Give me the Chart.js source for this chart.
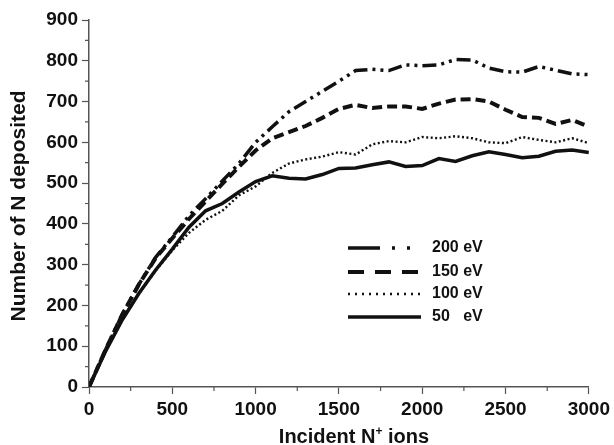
<!DOCTYPE html>
<html>
<head>
<meta charset="utf-8">
<script src="https://cdn.jsdelivr.net/npm/chart.js@4.4.0/dist/chart.umd.min.js"></script>
<style>
  body { margin: 0; background: #fff; }
  #wrap { width: 614px; height: 445px; }
</style>
</head>
<body>
<div id="wrap"><canvas id="grafic" width="614" height="445"></canvas></div>
<script>
// incident ions (x) and deposited N for each energy
const ions = [0, 100, 200, 300, 400, 500, 600, 700, 800, 900, 1000,
    1100, 1200, 1300, 1400, 1500, 1600, 1700, 1800, 1900, 2000,
    2100, 2200, 2300, 2400, 2500, 2600, 2700, 2800, 2900, 3000];

const ev200 = [0, 92, 178, 252, 318, 368, 420, 462, 505, 548, 600,
    638, 675, 700, 725, 750, 776, 779, 776, 790, 788,
    790, 803, 802, 782, 773, 772, 786, 777, 768, 766];

const ev150 = [0, 92, 178, 252, 316, 365, 412, 455, 498, 540, 580,
    610, 625, 640, 660, 682, 692, 684, 688, 688, 682,
    695, 705, 706, 700, 680, 662, 660, 645, 655, 638];

const ev100 = [0, 88, 165, 230, 285, 335, 378, 410, 432, 470, 492,
    525, 548, 558, 565, 576, 570, 595, 603, 600, 613,
    610, 615, 610, 600, 598, 613, 606, 600, 610, 598];

const ev50 = [0, 88, 165, 230, 287, 338, 392, 432, 450, 478, 504,
    518, 512, 510, 521, 536, 537, 545, 552, 541, 543,
    560, 553, 567, 577, 570, 562, 566, 578, 581, 575];

const legendLabels = ['200 eV', '150 eV', '100 eV', '50   eV'];

const ink = '#111';
const axisColor = '#555';
const boldFont = "'Liberation Sans', Arial, sans-serif";

const toPoints = arr => arr.map((v, i) => ({ x: ions[i], y: v }));

const series = [
    { data: ev200, dash: [14, 5, 3, 5, 3, 5], width: 3.5, legendDash: [32, 12, 3, 12, 3, 40] },
    { data: ev150, dash: [10, 5], width: 4, legendDash: [16, 11] },
    { data: ev100, dash: [2, 2.5], width: 2.4, legendDash: [2, 5] },
    { data: ev50, dash: [], width: 3.5, legendDash: [] }
];

// minor ticks, legend and axis titles
const extras = {
    id: 'extras',
    afterDraw(chart) {
        const ctx = chart.ctx;
        const xs = chart.scales.x;
        const ys = chart.scales.y;
        const area = chart.chartArea;

        ctx.save();
        ctx.strokeStyle = axisColor;
        ctx.lineWidth = 1.2;
        ctx.beginPath();
        for (let v = 250; v < 3000; v += 500) {
            const px = xs.getPixelForValue(v);
            ctx.moveTo(px, area.bottom);
            ctx.lineTo(px, area.bottom + 4);
        }
        for (let v = 50; v < 900; v += 100) {
            const py = ys.getPixelForValue(v);
            ctx.moveTo(area.left, py);
            ctx.lineTo(area.left - 4, py);
        }
        ctx.stroke();

        // legend
        const rows = [248, 272, 294, 317];
        ctx.strokeStyle = ink;
        ctx.fillStyle = ink;
        ctx.font = 'bold 16px ' + boldFont;
        ctx.textBaseline = 'middle';
        series.forEach((s, i) => {
            ctx.beginPath();
            ctx.setLineDash(s.legendDash);
            ctx.lineWidth = s.width;
            ctx.moveTo(348, rows[i]);
            ctx.lineTo(421, rows[i]);
            ctx.stroke();
            ctx.setLineDash([]);
            ctx.fillText(legendLabels[i], 432, rows[i]);
        });

        // axis titles
        ctx.textBaseline = 'alphabetic';
        const a = 'Incident N', b = ' ions';
        ctx.font = 'bold 20px ' + boldFont;
        const wa = ctx.measureText(a).width;
        const wb = ctx.measureText(b).width;
        ctx.font = 'bold 12px ' + boldFont;
        const wp = ctx.measureText('+').width;
        let x0 = 354 - (wa + wp + wb) / 2;
        ctx.font = 'bold 20px ' + boldFont;
        ctx.fillText(a, x0, 443);
        ctx.font = 'bold 12px ' + boldFont;
        ctx.fillText('+', x0 + wa, 435);
        ctx.font = 'bold 20px ' + boldFont;
        ctx.fillText(b, x0 + wa + wp, 443);

        ctx.translate(19, 206);
        ctx.rotate(-Math.PI / 2);
        ctx.font = 'bold 21px ' + boldFont;
        ctx.textAlign = 'center';
        ctx.textBaseline = 'middle';
        ctx.fillText('Number of N deposited', 0, 0);
        ctx.restore();
    }
};

new Chart(document.getElementById('grafic'), {
    type: 'line',
    data: {
        datasets: series.map(s => ({
            data: toPoints(s.data),
            borderColor: ink,
            borderWidth: s.width,
            borderDash: s.dash,
            pointRadius: 0,
            tension: 0,
            fill: false
        }))
    },
    options: {
        responsive: false,
        animation: false,
        devicePixelRatio: 1,
        layout: { padding: { top: 20, right: 22, left: 0, bottom: 0 } },
        plugins: {
            legend: { display: false },
            tooltip: { enabled: false }
        },
        scales: {
            x: {
                type: 'linear',
                min: 0,
                max: 3000,
                afterFit: scale => { scale.height = 58; },
                ticks: {
                    stepSize: 500,
                    color: ink,
                    padding: 4,
                    maxRotation: 0,
                    callback: v => String(v),
                    font: { family: boldFont, size: 19, weight: 'bold' }
                },
                grid: {
                    drawOnChartArea: false,
                    drawTicks: true,
                    tickLength: 7,
                    tickColor: axisColor,
                    tickWidth: 1.2
                },
                border: { display: true, color: axisColor, width: 1.5 }
            },
            y: {
                min: 0,
                max: 900,
                afterFit: scale => { scale.width = 89; },
                ticks: {
                    stepSize: 100,
                    color: ink,
                    padding: 4,
                    callback: v => String(v),
                    font: { family: boldFont, size: 19, weight: 'bold' }
                },
                grid: {
                    drawOnChartArea: false,
                    drawTicks: true,
                    tickLength: 7,
                    tickColor: axisColor,
                    tickWidth: 1.2
                },
                border: { display: true, color: axisColor, width: 1.5 }
            }
        }
    },
    plugins: [extras]
});
</script>
</body>
</html>
